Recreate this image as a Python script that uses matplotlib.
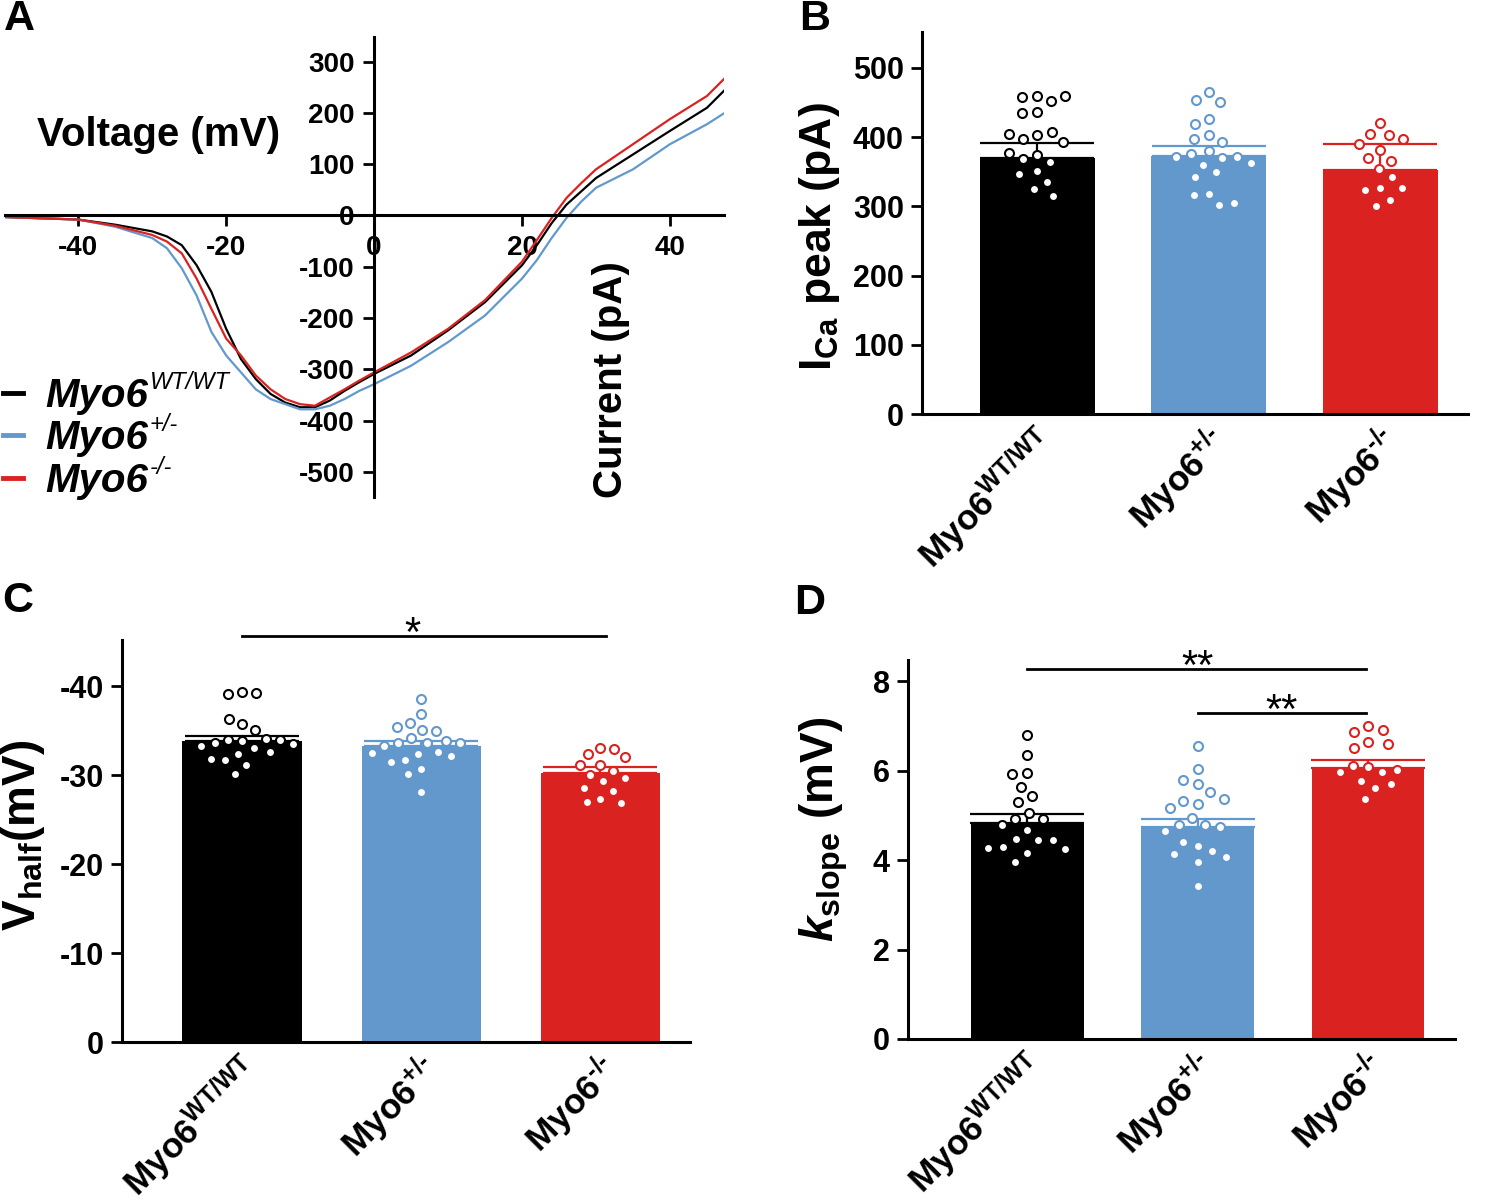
import matplotlib
matplotlib.use('Agg')
import matplotlib.pyplot as plt
from matplotlib.lines import Line2D
from matplotlib.transforms import ScaledTranslation
import numpy as np

plt.rcParams['font.family'] = ['Liberation Sans', 'DejaVu Sans']
plt.rcParams['font.weight'] = 'bold'
plt.rcParams['axes.unicode_minus'] = False
plt.rcParams['mathtext.fontset'] = 'custom'
plt.rcParams['mathtext.rm'] = 'Liberation Sans:bold'
plt.rcParams['mathtext.it'] = 'Liberation Sans:bold:italic'
plt.rcParams['mathtext.bf'] = 'Liberation Sans:bold'
plt.rcParams['mathtext.default'] = 'rm'

# ---------------- data ----------------
groups = ['WT/WT', '+/\u2010', '\u2010/\u2010']
colors = ['#000000', '#6398CC', '#DA2220']

# Panel A: I-V curves
voltage = [-50, -40, -35, -30, -28, -26, -24, -22, -20, -18, -16, -14, -12, -10, -8, -6, -4, -2,
           0, 5, 10, 15, 20, 22, 24, 26, 28, 30, 35, 40, 45, 47.5]
current_wt = [-3, -8, -18, -31, -41, -58, -97, -149, -221, -280, -319, -348, -365, -374, -374, -361,
              -342, -325, -309, -273, -224, -169, -97, -58, -15, 21, 47, 73, 119, 165, 210, 246]
current_het = [-3, -8, -22, -44, -64, -103, -156, -227, -273, -306, -339, -358, -368, -378, -378, -371,
               -358, -342, -329, -293, -247, -195, -123, -87, -44, -5, 27, 54, 90, 139, 178, 201]
current_ko = [-3, -8, -20, -38, -51, -74, -123, -182, -240, -273, -312, -339, -358, -368, -371, -355,
              -339, -322, -306, -267, -221, -165, -90, -48, -5, 34, 63, 90, 139, 188, 233, 269]

# Panel B: ICa peak (pA)
ica_mean = [370, 373, 353]
ica_sem = [22, 14, 37]
ica_wt = [459, 458, 452, 459, 436, 435, 403, 397, 407, 405, 393, 374, 368, 364, 377, 351, 347, 335, 325, 315]
ica_het = [465, 454, 451, 426, 419, 403, 397, 393, 380, 376, 370, 371, 371, 360, 363, 350, 342, 318, 317, 302, 305]
ica_ko = [421, 405, 403, 398, 390, 381, 370, 366, 354, 343, 326, 324, 327, 309, 300]

# Panel C: Vhalf (mV)
vh_mean = [-33.8, -33.3, -30.3]
vh_sem = [0.6, 0.6, 0.6]
vh_wt = [-39.4, -39.1, -39.2, -35.7, -36.3, -35.1, -33.9, -34.0, -34.1, -33.6, -34.0,
         -33.3, -33.5, -33.1, -32.6, -32.4, -31.7, -31.8, -31.1, -30.1]
vh_het = [-38.6, -36.9, -35.9, -35.1, -35.0, -35.4, -34.2, -33.9, -33.6, -33.6, -33.3, -33.6,
          -32.4, -32.6, -32.5, -32.2, -31.7, -31.5, -30.7, -30.1, -28.1]
vh_ko = [-33.1, -32.4, -33.0, -32.0, -31.1, -31.1, -30.5, -30.0, -29.7, -29.3, -28.6, -28.2,
         -27.3, -27.0, -26.9]

# Panel D: k slope (mV)
k_mean = [4.83, 4.74, 6.06]
k_sem = [0.19, 0.17, 0.18]
k_wt = [6.79, 6.35, 5.94, 5.92, 5.64, 5.43, 5.30, 5.06, 4.92, 4.92, 4.78, 4.67, 4.46, 4.44, 4.45,
        4.29, 4.24, 4.26, 4.15, 3.95]
k_het = [6.55, 6.03, 5.69, 5.79, 5.51, 5.25, 5.33, 5.36, 5.16, 4.94, 4.78, 4.78, 4.73, 4.65,
         4.31, 4.40, 4.20, 4.13, 4.07, 3.96, 3.43]
k_ko = [6.99, 6.85, 6.90, 6.63, 6.59, 6.51, 6.07, 6.11, 5.97, 5.97, 6.01, 5.77, 5.70, 5.62, 5.37]

# ---------------- figure ----------------
W, H = 1497, 1202
fig = plt.figure(figsize=(W / 100, H / 100), dpi=100)
renderer = fig.canvas.get_renderer()


def axpx(l, t, r, b):
    return fig.add_axes([l / W, 1 - b / H, (r - l) / W, (b - t) / H])


def ftext(x, y, s, **kw):
    return fig.text(x / W, 1 - y / H, s, **kw)


SPW = 2.2

# ---------- Panel A ----------
axA = axpx(5, 37, 724, 497)
for cur, c in zip([current_wt, current_het, current_ko], colors):
    axA.plot(voltage, cur, color=c, lw=1.6)
axA.set_xlim(-49.9, 47.3)
axA.set_ylim(-549, 348)
for s in ['top', 'right']:
    axA.spines[s].set_visible(False)
axA.spines['left'].set_position(('data', 0))
axA.spines['bottom'].set_position(('data', 0))
for s in ['left', 'bottom']:
    axA.spines[s].set_linewidth(SPW)
axA.set_xticks([-40, -20, 0, 20, 40])
axA.set_yticks(list(range(-500, 301, 100)))
axA.tick_params(axis='both', direction='out', length=8, width=2, labelsize=20)
axA.tick_params(axis='x', pad=6)
axA.tick_params(axis='y', pad=6)

ftext(37, 135, 'Voltage (mV)', fontsize=29, va='center', ha='left')
ftext(611, 380, 'Current (pA)', fontsize=29, va='center', ha='center', rotation=90)

for i, (g, c) in enumerate(zip(groups, colors)):
    y = [393, 435, 478][i]
    fig.add_artist(Line2D([3 / W, 23 / W], [1 - y / H, 1 - y / H], color=c, lw=3.5))
    t = ftext(45, y + 14, 'Myo6', fontsize=29, va='baseline', ha='left', style='italic')
    bb = t.get_window_extent(renderer)
    ftext(bb.x1 + 2, y - 4, g, fontsize=17, va='baseline', ha='left', style='italic', fontweight='normal')


# ---------- bar panel helper ----------
def swarm_x(ax, xc, vals, d):
    T = ax.transData
    pts = T.transform(np.column_stack([np.full(len(vals), xc), vals]))
    ppu = T.transform((1, 0))[0] - T.transform((0, 0))[0]
    placed = []
    offs = np.zeros(len(vals))
    for i in range(len(vals)):
        py = pts[i, 1]
        cands = [0.0]
        for (qo, qy) in placed:
            dy = py - qy
            if abs(dy) < d:
                dx = np.sqrt(d * d - dy * dy)
                cands += [qo - dx, qo + dx]
        cands = sorted(cands, key=lambda o: (abs(o), o))
        for o in cands:
            if all((o - qo) ** 2 + (py - qy) ** 2 >= d * d - 1e-6 for qo, qy in placed):
                break
        placed.append((o, py))
        offs[i] = o
    return xc + offs / ppu


def bar_panel(ax, means, sems, pts, xlim, ylim, yticks, yticklabels, width, d=15):
    ax.set_xlim(*xlim)
    ax.set_ylim(*ylim)
    x = np.arange(3)
    ax.bar(x, means, width=width, color=colors, edgecolor='none', zorder=1)
    for xi, m, s, c in zip(x, means, sems, colors):
        lo = s if m < 0 else 0
        hi = s if m > 0 else 0
        ax.errorbar([xi], [m], yerr=[[lo], [hi]], color=c, lw=1.6, capsize=41, capthick=1.6,
                    zorder=2, fmt='none')
    for xi, v, c in zip(x, pts, colors):
        xs = swarm_x(ax, xi, v, d)
        ax.scatter(xs, v, s=42, facecolor='white', edgecolor=c, linewidth=1.5, zorder=3, clip_on=False)
    for s in ['top', 'right']:
        ax.spines[s].set_visible(False)
    for s in ['left', 'bottom']:
        ax.spines[s].set_linewidth(SPW)
    ax.set_yticks(yticks)
    ax.set_yticklabels(yticklabels)
    ax.tick_params(axis='y', direction='out', length=8, width=2, labelsize=22, pad=5)
    ax.set_xticks(x)
    ax.set_xticklabels(['Myo6$^{\\mathrm{%s}}$' % g for g in groups],
                       rotation=45, ha='right', va='center', rotation_mode='anchor', fontsize=25.5)
    ax.tick_params(axis='x', length=0, pad=14)
    off = ScaledTranslation(0.12, -0.03, fig.dpi_scale_trans)
    for lab in ax.get_xticklabels():
        lab.set_transform(lab.get_transform() + off)


def stars(ax, x, y, s):
    ax.annotate(s, xy=(x, y), xytext=(0, -7), textcoords='offset points', fontsize=30,
                ha='center', va='baseline', fontweight='normal', annotation_clip=False)


# ---------- Panel B ----------
axB = axpx(922, 32, 1468, 414)
bar_panel(axB, ica_mean, ica_sem, [ica_wt, ica_het, ica_ko], (-0.67, 2.51), (0, 552),
          [0, 100, 200, 300, 400, 500], ['0', '100', '200', '300', '400', '500'], 0.67)
ftext(819, 237, r'I$_{\mathrm{Ca}}$ peak (pA)', fontsize=32, rotation=90, va='center', ha='center')

# ---------- Panel C ----------
axC = axpx(122, 640, 690, 1042)
bar_panel(axC, vh_mean, vh_sem, [vh_wt, vh_het, vh_ko], (-0.67, 2.50), (0, -45.2),
          [0, -10, -20, -30, -40], ['0', '-10', '-20', '-30', '-40'], 0.665, d=14)
ftext(23, 835, r'V$_{\mathrm{half}}$(mV)', fontsize=33, rotation=90, va='center', ha='center')
axC.plot([0, 2.03], [-45.6, -45.6], color='black', lw=2, clip_on=False)
stars(axC, 0.95, -45.6, '*')

# ---------- Panel D ----------
axD = axpx(908, 660, 1455, 1039)
bar_panel(axD, k_mean, k_sem, [k_wt, k_het, k_ko], (-0.70, 2.51), (0, 8.47),
          [0, 2, 4, 6, 8], ['0', '2', '4', '6', '8'], 0.66)
ftext(824, 829, r'$\mathit{k}_{\mathrm{slope}}$ (mV)', fontsize=33, rotation=90, va='center', ha='center')
axD.plot([0, 1.99], [8.27, 8.27], color='black', lw=2, clip_on=False)
axD.plot([1.0, 1.99], [7.28, 7.28], color='black', lw=2, clip_on=False)
stars(axD, 1.0, 8.27, '**')
stars(axD, 1.49, 7.28, '**')

# panel letters
for lab, x, y in [('A', 4, 19), ('B', 799, 19), ('C', 2, 601), ('D', 794, 603)]:
    ftext(x, y, lab, fontsize=31, ha='left', va='center')

fig.savefig('out.png', dpi=100)
